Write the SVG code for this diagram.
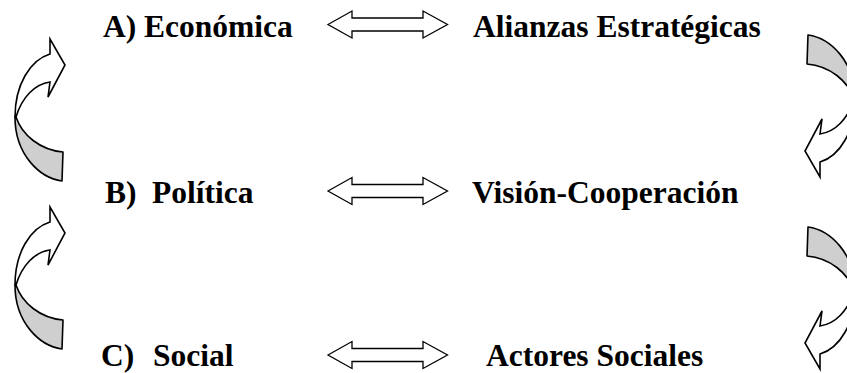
<svg xmlns="http://www.w3.org/2000/svg" width="847" height="373" viewBox="0 0 847 373">
  <style>
    .lbl { font-family: "Liberation Serif", "Times New Roman", serif; font-weight: bold; font-size: 31.5px; fill: #000; white-space: pre; }
    .dbl { fill: #fff; stroke: #000; stroke-width: 1.3; stroke-linejoin: miter; }
    .tail { fill: #cfcfcf; stroke: #000; stroke-width: 1.6; stroke-linejoin: round; }
    .head { fill: #fff; stroke: #000; stroke-width: 1.6; stroke-linejoin: miter; }
  </style>
  <defs>
    <!-- curved arrow turning up and to the right -->
    <g id="curl">
      <path class="tail" d="M62,181 C40,178 15,155 15,117 L16,117 C22,135 40,150 63,152 Z"/>
      <path class="head" d="M15,117 C15,85 30,60 50,54 L50,39 L65,65 L48,97 L50,82 C35,84 22,97 16,117 Z"/>
    </g>
    <!-- two-headed horizontal arrow centred on y=0 -->
    <path id="both" class="dbl" d="M328,0 L352,-13.5 L352,-6.5 L423,-6.5 L423,-13.5 L447.5,0 L423,13.5 L423,6.5 L352,6.5 L352,13.5 Z"/>
  </defs>

  <g id="connectors">
    <use href="#curl"/>
    <use href="#curl" transform="translate(0,168)"/>
    <use href="#curl" transform="rotate(180 435 108)"/>
    <use href="#curl" transform="rotate(180 435 204)"/>
    <use href="#both" transform="translate(0,24.5)"/>
    <use href="#both" transform="translate(0,191)"/>
    <use href="#both" transform="translate(0,355)"/>
  </g>

  <g id="economica"><text class="lbl" x="103" y="37">A) Económica</text></g>
  <g id="alianzas"><text class="lbl" x="473" y="37">Alianzas Estratégicas</text></g>
  <g id="politica"><text class="lbl" y="203"><tspan x="105">B)</tspan> <tspan x="152">Política</tspan></text></g>
  <g id="vision"><text class="lbl" x="472" y="203">Visión-Cooperación</text></g>
  <g id="social"><text class="lbl" y="366"><tspan x="101">C)</tspan> <tspan x="153">Social</tspan></text></g>
  <g id="actores"><text class="lbl" x="486" y="366">Actores Sociales</text></g>
</svg>
